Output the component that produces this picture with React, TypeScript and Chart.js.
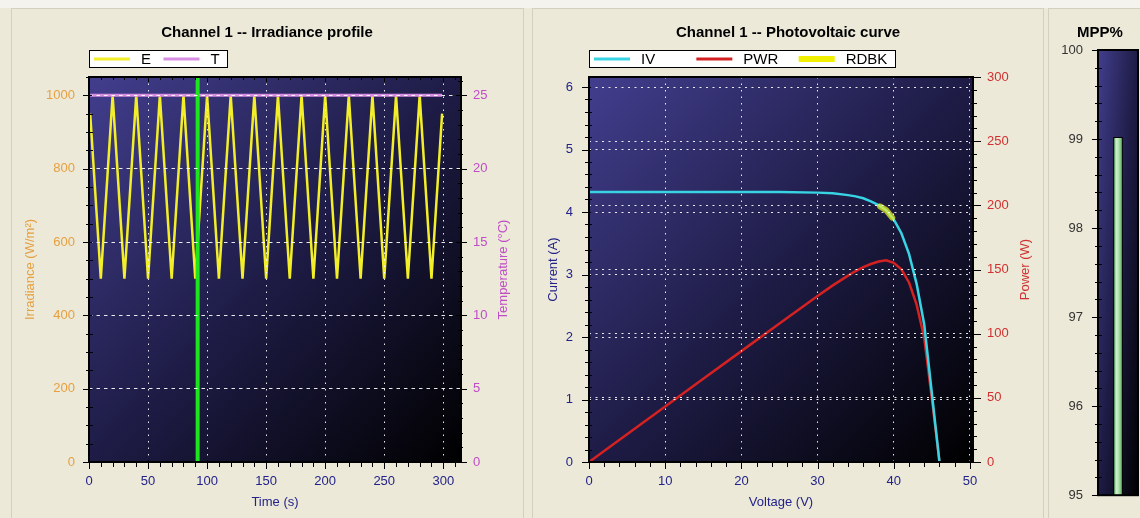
import React, { useEffect, useRef } from "react";
import { Chart, registerables } from "chart.js";

Chart.register(...registerables);

const FONT = "'Liberation Sans', Arial, Helvetica, sans-serif";
const NAVY = "#22228a";
const ORANGE = "#e6a040";
const PURPLE = "#c04cc8";
const RED = "#d03030";
const GRID = "rgba(255,255,255,0.9)";

// ---------- Irradiance profile data ----------
const irrTitle = "Channel 1 -- Irradiance profile";
const irrTime = [1, 10, 20, 30, 40, 50, 60, 70, 80, 90, 100, 110, 120, 130, 140, 150, 160, 170, 180, 190, 200, 210, 220, 230, 240, 250, 260, 270, 280, 290, 299];
const irrE = [950, 500, 1000, 500, 1000, 500, 1000, 500, 1000, 500, 1000, 500, 1000, 500, 1000, 500, 1000, 500, 1000, 500, 1000, 500, 1000, 500, 1000, 500, 1000, 500, 1000, 500, 950];
const tempTime = [1, 299];
const tempT = [25, 25];
const cursorTime = [92, 92];
const cursorE = [0, 1050];

// ---------- Photovoltaic curve data ----------
const pvTitle = "Channel 1 -- Photovoltaic curve";
const pvVoltage = [0, 5, 10, 15, 20, 25, 30, 32, 34, 35, 36, 37, 38, 39, 40, 41, 42, 43, 44, 45, 45.5, 46.0];
const pvCurrent = [4.32, 4.32, 4.32, 4.32, 4.32, 4.32, 4.31, 4.30, 4.27, 4.25, 4.22, 4.17, 4.11, 4.03, 3.88, 3.66, 3.33, 2.85, 2.2, 1.1, 0.55, 0];
const pvPower = [0, 21.6, 43.2, 64.8, 86.4, 108.0, 129.3, 137.6, 145.2, 148.8, 151.9, 154.3, 156.2, 157.2, 155.2, 150.1, 139.9, 122.6, 96.8, 49.5, 25.0, 0];
const rdbkVoltage = [38.2, 39.0, 39.8];
const rdbkCurrent = [4.09, 4.03, 3.91];

// ---------- MPP gauge data ----------
const mppTitle = "MPP%";
const mppCategories = ["MPP%"];
const mppValues = [99.02];

const tickFont = { family: FONT, size: 13 };
const titleFont = { family: FONT, size: 15, weight: "bold" as const, lineHeight: 1.2 };
const plainLabel = (v: any) => String(v);

type TickSpec = {
  id: string;
  side: "left" | "right" | "bottom" | "top";
  major: number;
  minor: number;
  majorOut: number;
  majorIn: number;
  minorOut: number;
  minorIn: number;
};

function plotBackground() {
  return {
    id: "plotBackground",
    beforeDraw(chart: any) {
      const { ctx, chartArea: a } = chart;
      if (!a) return;
      const w = a.right - a.left;
      const h = a.bottom - a.top;
      ctx.save();
      ctx.translate(a.left, a.top);
      ctx.scale(w, h);
      const g = ctx.createLinearGradient(0, 0, 1, 1);
      g.addColorStop(0, "#423e8e");
      g.addColorStop(0.5, "#1e1c46");
      g.addColorStop(1, "#000000");
      ctx.fillStyle = g;
      ctx.fillRect(0, 0, 1, 1);
      ctx.restore();
    },
  };
}

function frameTicks(specs: TickSpec[], frameWidth = 2) {
  return {
    id: "frameTicks",
    afterDraw(chart: any) {
      const { ctx, chartArea: a } = chart;
      ctx.save();
      ctx.strokeStyle = "#000";
      ctx.lineWidth = 1;
      for (const s of specs) {
        const sc = chart.scales[s.id];
        if (!sc) continue;
        const n0 = Math.ceil(sc.min / s.minor - 1e-6);
        const n1 = Math.floor(sc.max / s.minor + 1e-6);
        for (let k = n0; k <= n1; k++) {
          const v = k * s.minor;
          const r = v / s.major;
          const isMajor = Math.abs(r - Math.round(r)) < 1e-6;
          const out = isMajor ? s.majorOut : s.minorOut;
          const inn = isMajor ? s.majorIn : s.minorIn;
          const p = Math.round(sc.getPixelForValue(v)) + 0.5;
          ctx.beginPath();
          if (s.side === "left") {
            ctx.moveTo(a.left - out, p);
            ctx.lineTo(a.left + inn, p);
          } else if (s.side === "right") {
            ctx.moveTo(a.right + out, p);
            ctx.lineTo(a.right - inn, p);
          } else if (s.side === "bottom") {
            ctx.moveTo(p, a.bottom + out);
            ctx.lineTo(p, a.bottom - inn);
          } else {
            ctx.moveTo(p, a.top - out);
            ctx.lineTo(p, a.top + inn);
          }
          ctx.stroke();
        }
      }
      ctx.lineWidth = frameWidth;
      ctx.strokeRect(a.left, a.top, a.right - a.left, a.bottom - a.top);
      ctx.restore();
    },
  };
}

// Right-axis caption drawn reading bottom-to-top, like the left one.
function rightAxisCaption(text: string, color: string, x: number) {
  return {
    id: "rightAxisCaption",
    afterDraw(chart: any) {
      const { ctx, chartArea: a } = chart;
      ctx.save();
      ctx.translate(x, (a.top + a.bottom) / 2);
      ctx.rotate(-Math.PI / 2);
      ctx.font = `13px ${FONT}`;
      ctx.fillStyle = color;
      ctx.textAlign = "center";
      ctx.textBaseline = "middle";
      ctx.fillText(text, 0, 0);
      ctx.restore();
    },
  };
}

function boxLegend(top: number, width: number, height: number) {
  return {
    id: "boxLegend",
    afterDraw(chart: any) {
      const { ctx, chartArea: a } = chart;
      const items = chart.data.datasets.filter((d: any) => d.legendWidth);
      const x = Math.round(a.left);
      ctx.save();
      ctx.fillStyle = "#ffffff";
      ctx.fillRect(x, top, width, height);
      ctx.strokeStyle = "#000";
      ctx.lineWidth = 1;
      ctx.strokeRect(x + 0.5, top + 0.5, width - 1, height - 1);
      const iw = width / items.length;
      const cy = top + height / 2;
      ctx.font = `15px ${FONT}`;
      ctx.textBaseline = "middle";
      ctx.textAlign = "left";
      items.forEach((d: any, i: number) => {
        const sx = x + i * iw;
        ctx.strokeStyle = d.legendColor || d.borderColor;
        ctx.lineWidth = d.legendWidth;
        ctx.beginPath();
        ctx.moveTo(sx + 5, cy);
        ctx.lineTo(sx + 41, cy);
        ctx.stroke();
        ctx.fillStyle = "#000";
        ctx.fillText(d.label, sx + 52, cy + 1);
      });
      ctx.restore();
    },
  };
}

const baseOptions = {
  animation: false,
  responsive: false,
  maintainAspectRatio: false,
  devicePixelRatio: 1,
  events: [],
  layout: { padding: 0, autoPadding: false },
};

function irradianceConfig(): any {
  return {
    type: "line",
    data: {
      datasets: [
        {
          label: "E",
          data: irrTime.map((t, i) => ({ x: t, y: irrE[i] })),
          yAxisID: "y",
          borderColor: "#f2ee2a",
          borderWidth: 2.5,
          pointRadius: 0,
          order: 2,
          legendWidth: 3,
        },
        {
          label: "T",
          data: tempTime.map((t, i) => ({ x: t, y: tempT[i] })),
          yAxisID: "y1",
          borderColor: "#d88ee2",
          borderWidth: 3,
          pointRadius: 0,
          order: 1,
          legendWidth: 3,
        },
        {
          label: "Cursor",
          data: cursorTime.map((t, i) => ({ x: t, y: cursorE[i] })),
          yAxisID: "y",
          borderColor: "#1ee61e",
          borderWidth: 4,
          pointRadius: 0,
          order: 0,
        },
      ],
    },
    options: {
      ...baseOptions,
      plugins: {
        legend: { display: false },
        tooltip: { enabled: false },
        title: { display: true, text: irrTitle, color: "#000", font: titleFont, padding: { top: 16, bottom: 35 } },
      },
      scales: {
        x: {
          type: "linear",
          min: 0,
          max: 315,
          ticks: { stepSize: 50, includeBounds: false, color: NAVY, font: tickFont, padding: 12, maxRotation: 0, callback: plainLabel },
          grid: { color: GRID, lineWidth: 1, drawTicks: false, z: 1 },
          border: { display: false, dash: [1.5, 5] },
          title: { display: true, text: "Time (s)", color: NAVY, font: tickFont, padding: { top: 0, bottom: 8 } },
          afterFit: (s: any) => { s.height = 56; },
        },
        y: {
          type: "linear",
          position: "left",
          min: 0,
          max: 1050,
          ticks: { stepSize: 200, includeBounds: false, color: ORANGE, font: tickFont, padding: 14, callback: plainLabel },
          grid: { color: GRID, lineWidth: 1, drawTicks: false, z: 1 },
          border: { display: false, dash: [3.5, 4] },
          title: { display: true, text: "Irradiance (W/m²)", color: ORANGE, font: tickFont, padding: { top: 13, bottom: 0 } },
          afterFit: (s: any) => { s.width = 79; },
        },
        y1: {
          type: "linear",
          position: "right",
          min: 0,
          max: 26.25,
          ticks: { stepSize: 5, includeBounds: false, color: PURPLE, font: tickFont, padding: 12, callback: plainLabel },
          grid: { display: false, drawTicks: false },
          border: { display: false },
          title: { display: false },
          afterFit: (s: any) => { s.width = 63; },
        },
      },
    },
    plugins: [
      plotBackground(),
      frameTicks([
        { id: "x", side: "bottom", major: 50, minor: 10, majorOut: 7, majorIn: 2, minorOut: 5, minorIn: 0 },
        { id: "x", side: "top", major: 50, minor: 10, majorOut: 0, majorIn: 5, minorOut: 0, minorIn: 3 },
        { id: "y", side: "left", major: 200, minor: 50, majorOut: 6, majorIn: 3, minorOut: 3, minorIn: 4 },
        { id: "y1", side: "right", major: 5, minor: 1, majorOut: 6, majorIn: 5, minorOut: 2, minorIn: 3 },
      ]),
      rightAxisCaption("Temperature (°C)", PURPLE, 493),
      boxLegend(42, 139, 18),
    ],
  };
}

function pvConfig(): any {
  return {
    type: "line",
    data: {
      datasets: [
        {
          label: "IV",
          data: pvVoltage.map((v, i) => ({ x: v, y: pvCurrent[i] })),
          yAxisID: "y",
          borderColor: "#38d4e4",
          borderWidth: 2.5,
          pointRadius: 0,
          order: 1,
          legendWidth: 3,
        },
        {
          label: "PWR",
          data: pvVoltage.map((v, i) => ({ x: v, y: pvPower[i] })),
          yAxisID: "y2",
          borderColor: "#d42222",
          borderWidth: 2.5,
          pointRadius: 0,
          order: 2,
          legendWidth: 3,
        },
        {
          label: "RDBK",
          data: rdbkVoltage.map((v, i) => ({ x: v, y: rdbkCurrent[i] })),
          yAxisID: "y",
          borderColor: "rgba(236,244,40,0.72)",
          legendColor: "#f0f000",
          borderWidth: 6,
          borderCapStyle: "round",
          pointRadius: 0,
          order: 0,
          legendWidth: 6,
        },
      ],
    },
    options: {
      ...baseOptions,
      plugins: {
        legend: { display: false },
        tooltip: { enabled: false },
        title: { display: true, text: pvTitle, color: "#000", font: titleFont, padding: { top: 16, bottom: 35 } },
      },
      scales: {
        x: {
          type: "linear",
          min: 0,
          max: 50.4,
          ticks: { stepSize: 10, includeBounds: false, color: NAVY, font: tickFont, padding: 12, maxRotation: 0, callback: plainLabel },
          grid: { color: GRID, lineWidth: 1, drawTicks: false, z: 1 },
          border: { display: false, dash: [1.5, 5] },
          title: { display: true, text: "Voltage (V)", color: NAVY, font: tickFont, padding: { top: 0, bottom: 8 } },
          afterFit: (s: any) => { s.height = 56; },
        },
        y: {
          type: "linear",
          position: "left",
          min: 0,
          max: 6.16,
          ticks: { stepSize: 1, includeBounds: false, color: NAVY, font: tickFont, padding: 16, callback: plainLabel },
          grid: { color: GRID, lineWidth: 1, drawTicks: false, z: 1 },
          border: { display: false, dash: [2, 4.5] },
          title: { display: true, text: "Current (A)", color: NAVY, font: tickFont, padding: { top: 15, bottom: 0 } },
          afterFit: (s: any) => { s.width = 58; },
        },
        y2: {
          type: "linear",
          position: "right",
          min: 0,
          max: 300,
          ticks: { stepSize: 50, includeBounds: false, color: RED, font: tickFont, padding: 14, callback: plainLabel },
          grid: { color: GRID, lineWidth: 1, drawTicks: false, z: 1 },
          border: { display: false, dash: [2, 4.5] },
          title: { display: false },
          afterFit: (s: any) => { s.width = 72; },
        },
      },
    },
    plugins: [
      plotBackground(),
      frameTicks([
        { id: "x", side: "bottom", major: 10, minor: 2, majorOut: 7, majorIn: 2, minorOut: 5, minorIn: 0 },
        { id: "y", side: "left", major: 1, minor: 0.2, majorOut: 7, majorIn: 2, minorOut: 4, minorIn: 3 },
        { id: "y2", side: "right", major: 50, minor: 10, majorOut: 8, majorIn: 2, minorOut: 4, minorIn: 2 },
      ]),
      rightAxisCaption("Power (W)", RED, 494),
      boxLegend(42, 307, 18),
    ],
  };
}

function mppConfig(): any {
  return {
    type: "bar",
    data: {
      labels: mppCategories,
      datasets: [
        {
          label: mppTitle,
          data: mppValues,
          base: 95,
          barThickness: 9,
          borderColor: "#000",
          borderWidth: 1,
          backgroundColor: (c: any) => {
            const a = c.chart.chartArea;
            if (!a) return "#9ad89a";
            const cx = (a.left + a.right) / 2;
            const g = c.chart.ctx.createLinearGradient(cx - 4.5, 0, cx + 4.5, 0);
            g.addColorStop(0, "#3c8c3c");
            g.addColorStop(0.3, "#cdf2cd");
            g.addColorStop(0.55, "#b0e4b0");
            g.addColorStop(1, "#58a858");
            return g;
          },
        },
      ],
    },
    options: {
      ...baseOptions,
      layout: { padding: { bottom: 10 }, autoPadding: false },
      plugins: {
        legend: { display: false },
        tooltip: { enabled: false },
        title: { display: true, text: mppTitle, color: "#000", font: titleFont, padding: { top: 16, bottom: 8 } },
      },
      scales: {
        x: { display: false },
        y: {
          type: "linear",
          position: "left",
          min: 95,
          max: 100,
          ticks: { stepSize: 1, includeBounds: false, color: "#333", font: tickFont, padding: 15, callback: plainLabel },
          grid: { display: false, drawTicks: false },
          border: { display: false },
          afterFit: (s: any) => { s.width = 51; },
        },
        yPad: {
          type: "linear",
          position: "right",
          display: true,
          ticks: { display: false },
          grid: { display: false, drawTicks: false },
          border: { display: false },
          afterFit: (s: any) => { s.width = 15; },
        },
      },
    },
    plugins: [
      plotBackground(),
      frameTicks([
        { id: "y", side: "left", major: 1, minor: 0.2, majorOut: 6, majorIn: 4, minorOut: 3, minorIn: 4 },
      ]),
    ],
  };
}

const panelStyle = (left: number, width: number): React.CSSProperties => ({
  position: "absolute",
  left,
  top: 8,
  width,
  height: 520,
  background: "#ece9d8",
  borderLeft: "1px solid #d4d0c0",
  borderTop: "1px solid #d4d0c0",
  borderRight: "1px solid #d4d0c0",
  boxSizing: "border-box",
});

const canvasStyle = (left: number, width: number): React.CSSProperties => ({
  position: "absolute",
  left,
  top: 8,
  width,
  height: 510,
});

export default function App() {
  const r1 = useRef<HTMLCanvasElement>(null);
  const r2 = useRef<HTMLCanvasElement>(null);
  const r3 = useRef<HTMLCanvasElement>(null);

  useEffect(() => {
    const charts = [
      new Chart(r1.current as HTMLCanvasElement, irradianceConfig()),
      new Chart(r2.current as HTMLCanvasElement, pvConfig()),
      new Chart(r3.current as HTMLCanvasElement, mppConfig()),
    ];
    return () => charts.forEach((c) => c.destroy());
  }, []);

  return (
    <div
      style={{
        position: "fixed",
        left: 0,
        top: 0,
        width: 1140,
        height: 518,
        overflow: "hidden",
        background: "#ece9d8",
      }}
    >
      <div style={{ position: "absolute", left: 0, top: 0, width: 1140, height: 8, background: "#f4f3ee" }} />
      <div style={panelStyle(11, 513)} />
      <div style={panelStyle(532, 512)} />
      <div style={panelStyle(1048, 110)} />
      <canvas ref={r1} width={514} height={510} style={canvasStyle(10, 514)} />
      <canvas ref={r2} width={514} height={510} style={canvasStyle(531, 514)} />
      <canvas ref={r3} width={106} height={510} style={canvasStyle(1047, 106)} />
    </div>
  );
}
